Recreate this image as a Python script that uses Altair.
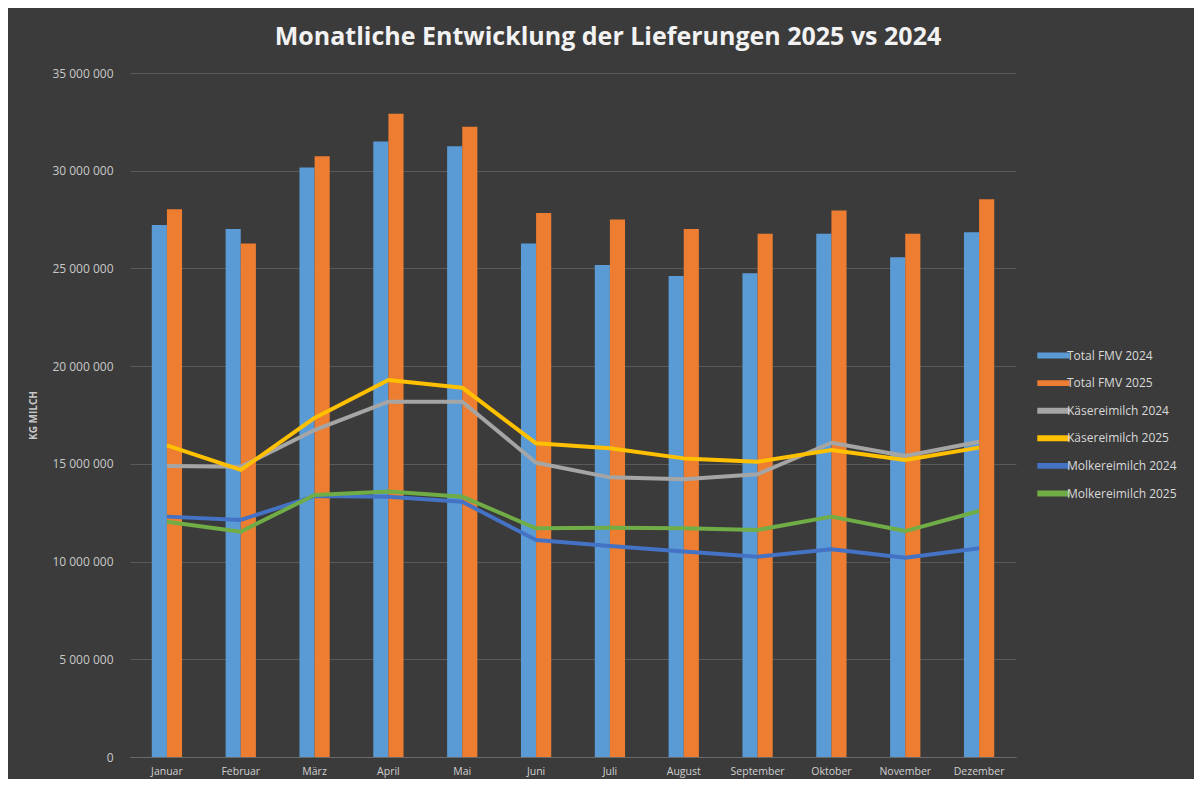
import altair as alt
import pandas as pd

months = ["Januar", "Februar", "März", "April", "Mai", "Juni", "Juli",
          "August", "September", "Oktober", "November", "Dezember"]

fmv_2024 = [27220000, 27020000, 30170000, 31500000, 31250000, 26270000,
            25180000, 24610000, 24750000, 26780000, 25570000, 26850000]
fmv_2025 = [28030000, 26270000, 30740000, 32920000, 32250000, 27840000,
            27510000, 27020000, 26780000, 27970000, 26780000, 28540000]
kas_2024 = [14890000, 14850000, 16730000, 18180000, 18180000, 15060000,
            14310000, 14210000, 14470000, 16080000, 15400000, 16130000]
kas_2025 = [15950000, 14690000, 17350000, 19290000, 18900000, 16050000,
            15800000, 15280000, 15110000, 15710000, 15200000, 15830000]
mol_2024 = [12300000, 12130000, 13350000, 13320000, 13060000, 11100000,
            10800000, 10510000, 10250000, 10630000, 10200000, 10680000]
mol_2025 = [12040000, 11530000, 13410000, 13580000, 13320000, 11700000,
            11730000, 11700000, 11620000, 12300000, 11560000, 12590000]

series_names = ["Total FMV 2024", "Total FMV 2025", "Käsereimilch 2024",
                "Käsereimilch 2025", "Molkereimilch 2024", "Molkereimilch 2025"]
series_colors = ["#5b9bd5", "#ed7d31", "#a5a5a5", "#ffc000", "#4472c4", "#70ad47"]

bar_rows = []
for name, vals in [("Total FMV 2024", fmv_2024), ("Total FMV 2025", fmv_2025)]:
    for m, v in zip(months, vals):
        bar_rows.append({"Monat": m, "Serie": name, "Wert": v})
bars_df = pd.DataFrame(bar_rows)

line_rows = []
for i, (name, vals) in enumerate([("Käsereimilch 2024", kas_2024), ("Käsereimilch 2025", kas_2025),
                                  ("Molkereimilch 2024", mol_2024), ("Molkereimilch 2025", mol_2025)]):
    for m, v in zip(months, vals):
        line_rows.append({"Monat": m, "Serie": name, "Wert": v, "ord": i})
lines_df = pd.DataFrame(line_rows)

W, H = 886, 684

x_scale = alt.Scale(domain=months, paddingInner=0.59, paddingOuter=0.295)
y_scale = alt.Scale(domain=[0, 35000000], nice=False)
color_scale = alt.Scale(domain=series_names, range=series_colors)

x_axis = alt.Axis(title=None, labelAngle=0, labelColor="#d0d0d0", labelFont="Open Sans",
                  labelFontSize=10.5, labelPadding=9, ticks=False, domain=True,
                  domainColor="#6a6a6a", domainWidth=1, grid=False)
y_axis = alt.Axis(title="KG MILCH", titleFont="Open Sans", titleFontSize=10, titleFontWeight="bold",
                  titleColor="#c8c8c8", titleX=-92, titleAngle=-90,
                  values=list(range(0, 35000001, 5000000)),
                  labelExpr="replace(format(datum.value, ','), /,/g, ' ')",
                  labelColor="#c8c8c8", labelFont="Open Sans", labelFontSize=12,
                  labelPadding=17, ticks=False, domain=False,
                  grid=True, gridColor="#5a5a5a", gridWidth=1)

legend = alt.Legend(title=None, orient="none", legendX=910, legendY=269,
                    symbolType="M-1.2,-0.22H1.2V0.22H-1.2Z", symbolSize=729,
                    symbolStrokeWidth=0, labelColor="#d9d9d9", labelFont="Open Sans",
                    labelFontSize=12, labelOffset=0, rowPadding=7.6)

bars = alt.Chart(bars_df).mark_bar().encode(
    x=alt.X("Monat:N", sort=months, scale=x_scale, axis=x_axis),
    xOffset=alt.XOffset("Serie:N", sort=["Total FMV 2024", "Total FMV 2025"]),
    y=alt.Y("Wert:Q", scale=y_scale, axis=y_axis),
    color=alt.Color("Serie:N", scale=color_scale, legend=legend),
)

lines = alt.Chart(lines_df).mark_line(strokeWidth=4, strokeJoin="round").encode(
    x=alt.X("Monat:N", sort=months, scale=x_scale, bandPosition=0.5),
    y=alt.Y("Wert:Q", scale=y_scale),
    color=alt.Color("Serie:N", scale=color_scale, legend=None),
    order=alt.Order("ord:Q"),
)

chart = alt.layer(bars, lines).properties(
    width=W, height=H,
    title=alt.TitleParams("Monatliche Entwicklung der Lieferungen 2025 vs 2024",
                          font="Open Sans", fontSize=25, fontWeight="bold",
                          color="#f2f2f2", anchor="middle", dx=35, offset=17),
    autosize=alt.AutoSizeParams(type="none"),
    padding={"left": 122, "top": 65, "right": 178, "bottom": 22},
    background="#3b3b3b",
).configure_view(stroke=None)

chart.save("out.html", embed_options={"renderer": "svg", "actions": False})
